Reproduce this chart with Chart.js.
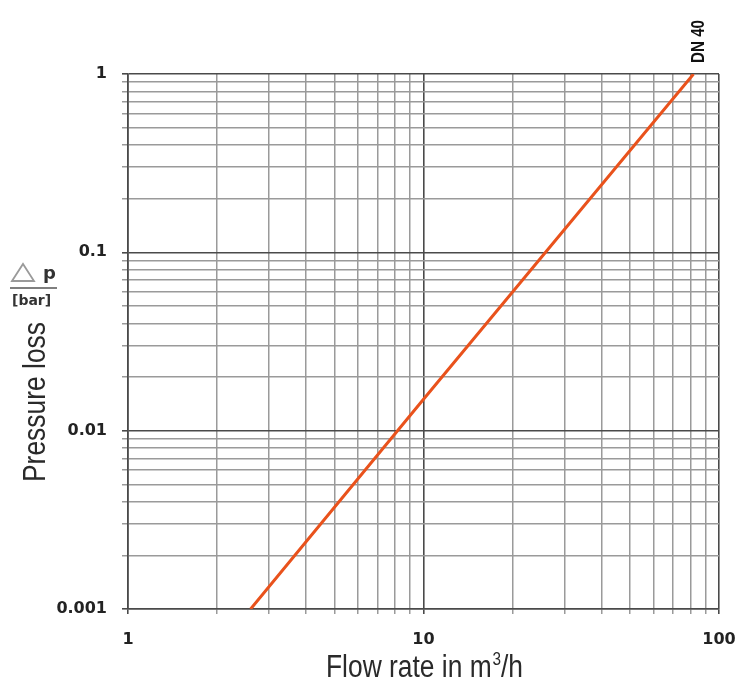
<!DOCTYPE html>
<html>
<head>
<meta charset="utf-8">
<script src="https://cdn.jsdelivr.net/npm/chart.js@4/dist/chart.umd.min.js"></script>
<style>
  html, body { margin: 0; padding: 0; background: #fff; }
  #wrap { width: 745px; height: 691px; }
</style>
</head>
<body>
<div id="wrap"><canvas id="lossChart"></canvas></div>
<script>
// DN 40 pressure loss curve, flow rate vs pressure drop (log-log)
const flowRate = [2.6, 10, 82];
const pressureLoss = [0.001, 0.015, 1];
const seriesLabel = 'DN 40';

const xMajor = [1, 10, 100];
const yMajor = [0.001, 0.01, 0.1, 1];

const narrow = '"Liberation Sans", Arial, sans-serif';

// 1..9 steps inside every decade
function decadeTicks(min, max) {
    const out = [];
    for (let d = min; d < max * 0.999; d *= 10) {
        for (let m = 1; m < 10; m++) out.push({ value: +(d * m).toPrecision(3) });
    }
    out.push({ value: max });
    return out;
}

function isMajor(v, list) {
    return list.some(m => Math.abs(m - v) < m * 1e-6);
}

// draws text runs squeezed horizontally to a given total width, centred on cx
function squeezed(ctx, runs, cx, baseY, width) {
    let total = 0;
    runs.forEach(r => { ctx.font = r.font; r.w = ctx.measureText(r.text).width; total += r.w + (r.gap || 0); });
    const k = width / total;
    ctx.save();
    ctx.translate(cx - width / 2, baseY);
    ctx.scale(k, 1);
    ctx.textAlign = 'left';
    ctx.textBaseline = 'alphabetic';
    let x = 0;
    runs.forEach(r => {
        ctx.font = r.font;
        ctx.fillText(r.text, x, r.dy || 0);
        x += r.w + (r.gap || 0);
    });
    ctx.restore();
}

const extraText = {
    id: 'extraText',
    afterDraw(chart) {
        const ctx = chart.ctx;
        const meta = chart.getDatasetMeta(0);
        const last = meta.data[meta.data.length - 1];
        ctx.save();

        // series name above the end of the line
        ctx.fillStyle = '#111';
        ctx.save();
        ctx.translate(last.x + 10, 41.5);
        ctx.rotate(-Math.PI / 2);
        squeezed(ctx, [{ text: seriesLabel, font: 'bold 18px ' + narrow }], 0, 0, 43);
        ctx.restore();

        // axis titles
        ctx.fillStyle = '#2a2a2a';
        squeezed(ctx, [
            { text: 'Flow rate in m', font: '31px ' + narrow, gap: 1 },
            { text: '3', font: '18px ' + narrow, dy: -12, gap: 0 },
            { text: '/h', font: '31px ' + narrow }
        ], 424.5, 677, 197);

        ctx.save();
        ctx.translate(45, 402);
        ctx.rotate(-Math.PI / 2);
        squeezed(ctx, [{ text: 'Pressure loss', font: '31px ' + narrow }], 0, 0, 160);
        ctx.restore();

        // delta p over [bar]
        ctx.strokeStyle = '#9a9a9a';
        ctx.lineWidth = 1.8;
        ctx.beginPath();
        ctx.moveTo(12, 281);
        ctx.lineTo(23, 264);
        ctx.lineTo(34, 281);
        ctx.closePath();
        ctx.stroke();
        ctx.fillStyle = '#333';
        ctx.font = 'bold 18px "DejaVu Sans", sans-serif';
        ctx.textAlign = 'left';
        ctx.textBaseline = 'alphabetic';
        ctx.fillText('p', 43, 279);
        ctx.strokeStyle = '#555';
        ctx.lineWidth = 1.4;
        ctx.beginPath();
        ctx.moveTo(10, 288);
        ctx.lineTo(57, 288);
        ctx.stroke();
        ctx.font = 'bold 14px "DejaVu Sans", sans-serif';
        ctx.fillText('[bar]', 12, 305);
        ctx.restore();
    }
};

const gridColor = (list) => (c) => (c.tick && isMajor(c.tick.value, list)) ? '#4a4a4a' : '#9a9a9a';
const gridWidth = (list) => (c) => (c.tick && isMajor(c.tick.value, list)) ? 1.6 : 1.5;

const config = {
    type: 'line',
    data: {
        datasets: [{
            label: seriesLabel,
            data: flowRate.map((x, i) => ({ x: x, y: pressureLoss[i] })),
            borderColor: 'rgb(233, 82, 28)',
            borderWidth: 3,
            pointRadius: 0,
            tension: 0,
            fill: false
        }]
    },
    options: {
        responsive: true,
        maintainAspectRatio: false,
        animation: false,
        layout: { padding: { top: 74, right: 26, left: 0, bottom: 0 } },
        plugins: {
            legend: { display: false },
            tooltip: { enabled: false }
        },
        scales: {
            x: {
                type: 'logarithmic',
                min: 1,
                max: 100,
                afterBuildTicks: (s) => { s.ticks = decadeTicks(1, 100); },
                afterFit: (s) => { s.height = 82; s.paddingLeft = 0; s.paddingRight = 0; },
                border: { display: true, color: '#4a4a4a', width: 1.6 },
                grid: { color: gridColor(xMajor), lineWidth: gridWidth(xMajor), tickLength: 5 },
                ticks: {
                    autoSkip: false,
                    maxRotation: 0,
                    padding: 16,
                    color: '#222',
                    font: { family: '"DejaVu Sans", sans-serif', size: 16, weight: 'bold' },
                    callback: (v) => isMajor(v, xMajor) ? String(v) : ''
                }
            },
            y: {
                type: 'logarithmic',
                min: 0.001,
                max: 1,
                afterBuildTicks: (s) => { s.ticks = decadeTicks(0.001, 1); },
                afterFit: (s) => { s.width = 128; s.paddingTop = 0; s.paddingBottom = 0; },
                border: { display: true, color: '#4a4a4a', width: 1.6 },
                grid: { color: gridColor(yMajor), lineWidth: gridWidth(yMajor), tickLength: 6 },
                ticks: {
                    autoSkip: false,
                    padding: 15,
                    color: '#222',
                    font: { family: '"DejaVu Sans", sans-serif', size: 16, weight: 'bold' },
                    callback: (v) => isMajor(v, yMajor) ? String(v) : ''
                }
            }
        }
    },
    plugins: [extraText]
};

new Chart(document.getElementById('lossChart'), config);
</script>
</body>
</html>
